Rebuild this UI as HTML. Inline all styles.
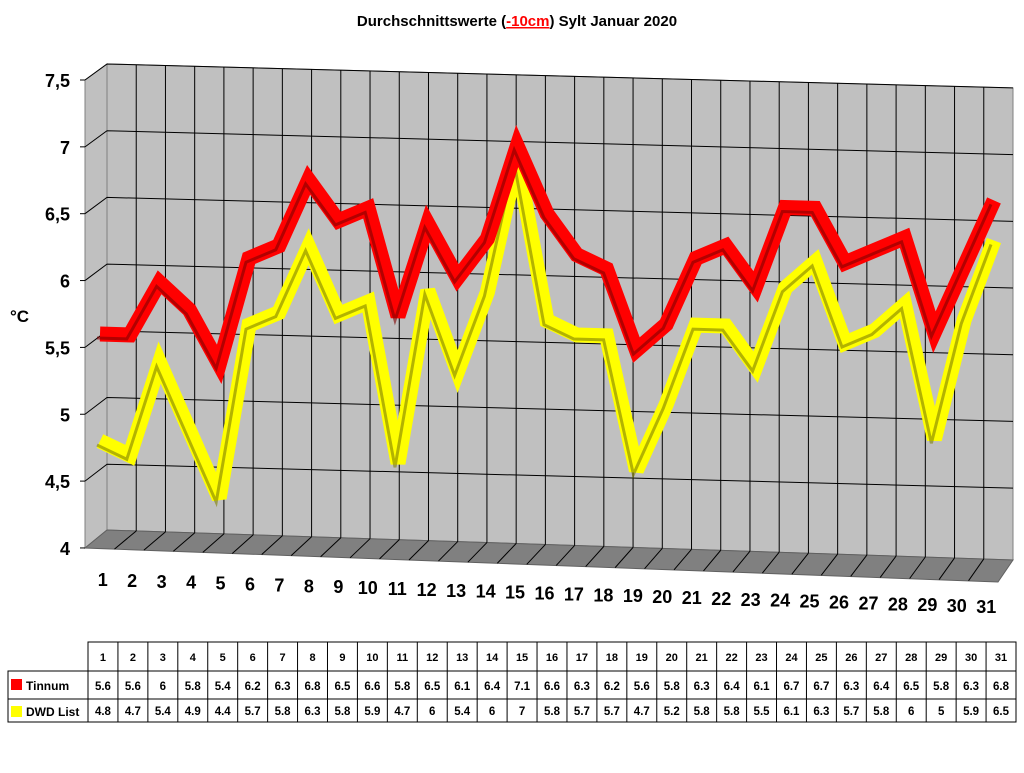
<!DOCTYPE html>
<html><head><meta charset="utf-8"><style>
body{margin:0;background:#fff;width:1024px;height:768px;overflow:hidden}
svg text{font-family:"Liberation Sans",sans-serif;font-weight:bold}
</style></head><body>
<svg id="c" width="1024" height="768">
<text x="517" y="26" text-anchor="middle" font-size="15">Durchschnittswerte (<tspan fill="#ff0000" text-decoration="underline">-10cm</tspan>) Sylt Januar 2020</text>
<text x="10" y="322" font-size="17">°C</text>
<g id="walls"></g><g id="series"></g><g id="axes"></g><g id="table"></g>
</svg>
<script>
const days=[1,2,3,4,5,6,7,8,9,10,11,12,13,14,15,16,17,18,19,20,21,22,23,24,25,26,27,28,29,30,31];
const tinnum=[5.6,5.6,6,5.8,5.4,6.2,6.3,6.8,6.5,6.6,5.8,6.5,6.1,6.4,7.1,6.6,6.3,6.2,5.6,5.8,6.3,6.4,6.1,6.7,6.7,6.3,6.4,6.5,5.8,6.3,6.8];
const dwd=[4.8,4.7,5.4,4.9,4.4,5.7,5.8,6.3,5.8,5.9,4.7,6,5.4,6,7,5.8,5.7,5.7,4.7,5.2,5.8,5.8,5.5,6.1,6.3,5.7,5.8,6,5,5.9,6.5];
const yTicks=[4,4.5,5,5.5,6,6.5,7,7.5];
const yLabels=["4","4,5","5","5,5","6","6,5","7","7,5"];
const NS='http://www.w3.org/2000/svg';
function mk(t,a,p){const e=document.createElementNS(NS,t);for(const k in a)e.setAttribute(k,a[k]);p.appendChild(e);return e;}
const vmin=4,vmax=7.5;
function frontY(v){return 80+(vmax-v)*133.7;}
function backY(v,x){return 64+(vmax-v)*133.4+(x-107)*0.0264;}
function serX(i){return 100+i*29.8;}
function serY(v,i){return frontY(v)+(serX(i)-100)*0.03;}
const W=document.getElementById('walls');
let e;
e=mk('polygon',{points:'107,64 1013,88 1013,560 107,530',fill:'#c0c0c0',stroke:'#808080'},W);

e=mk('polygon',{points:'85,80 107,64 107,530 85,548',fill:'#c0c0c0',stroke:'#808080'},W);

e=mk('polygon',{points:'85,548 107,530 1013,560 998,582',fill:'#808080',stroke:'#606060'},W);

const n=days.length, bstep=(1013-107)/n, fstep=(998-85)/n;
for(let k=1;k<n;k++){
  const bx=107+k*bstep, fx=85+k*fstep;
  e=mk('line',{x1:bx,y1:64+(bx-107)*0.0264,x2:bx,y2:530+(bx-107)*0.033,stroke:'#000'},W);
  
  e=mk('line',{x1:bx,y1:530+(bx-107)*0.033,x2:fx,y2:548+(fx-85)*0.037,stroke:'#000'},W);
  
}
yTicks.forEach((v,j)=>{
  if(v>vmin){
    e=mk('polyline',{points:`85,${frontY(v)} 107,${backY(v,107)} 1013,${backY(v,1013)}`,fill:'none',stroke:'#000'},W);
    
  }
  e=mk('line',{x1:80,y1:frontY(v),x2:85,y2:frontY(v),stroke:'#000'},W);
  
  e=mk('text',{x:70,y:frontY(v)+7,'text-anchor':'end','font-size':18},W);
  e.textContent=yLabels[j];
  
});
const S=document.getElementById('series');
function ribbon(vals,col,dark,name){
  const pts=vals.map((v,i)=>serX(i)+','+serY(v,i)).join(' ');
  const pts2=vals.map((v,i)=>(serX(i)-3)+','+(serY(v,i)+4)).join(' ');
  let r=mk('polyline',{points:pts,fill:'none',stroke:col,'stroke-width':15,'stroke-linejoin':'miter','stroke-miterlimit':3},S);
  
  r=mk('polyline',{points:pts2,fill:'none',stroke:dark,'stroke-width':3,opacity:0.6},S);
  
}
ribbon(dwd,'#ffff00','#808000','dwd-list');
ribbon(tinnum,'#ff0000','#800000','tinnum');
const A=document.getElementById('axes');
days.forEach((d,i)=>{
  const fx=85+(i+0.5)*fstep;
  e=mk('text',{x:fx+3,y:586+i*0.9,'text-anchor':'middle','font-size':18},A);
  e.textContent=d;
  
});
const T=document.getElementById('table');
const x0=88,cw=(1016-88)/n,rows=[642,671,699,722];
mk('rect',{x:x0,y:642,width:1016-x0,height:29,fill:'none',stroke:'#000'},T);
mk('rect',{x:8,y:671,width:1008,height:51,fill:'none',stroke:'#000'},T);
mk('line',{x1:8,y1:699,x2:1016,y2:699,stroke:'#000'},T);
for(let k=0;k<n;k++)mk('line',{x1:x0+k*cw,y1:642,x2:x0+k*cw,y2:722,stroke:'#000'},T);
e=mk('rect',{x:11,y:679,width:11,height:11,fill:'#ff0000'},T);

e=mk('text',{x:26,y:690,'font-size':12},T);e.textContent='Tinnum';

e=mk('rect',{x:11,y:706,width:11,height:11,fill:'#ffff00'},T);

e=mk('text',{x:26,y:716,'font-size':12},T);e.textContent='DWD List';

days.forEach((d,i)=>{
  const cx=x0+(i+0.5)*cw;
  e=mk('text',{x:cx,y:661,'text-anchor':'middle','font-size':11},T);e.textContent=d;
  
  e=mk('text',{x:cx,y:690,'text-anchor':'middle','font-size':11.5},T);e.textContent=tinnum[i];
  
  e=mk('text',{x:cx,y:715,'text-anchor':'middle','font-size':11.5},T);e.textContent=dwd[i];
  
});
</script>
</body></html>
